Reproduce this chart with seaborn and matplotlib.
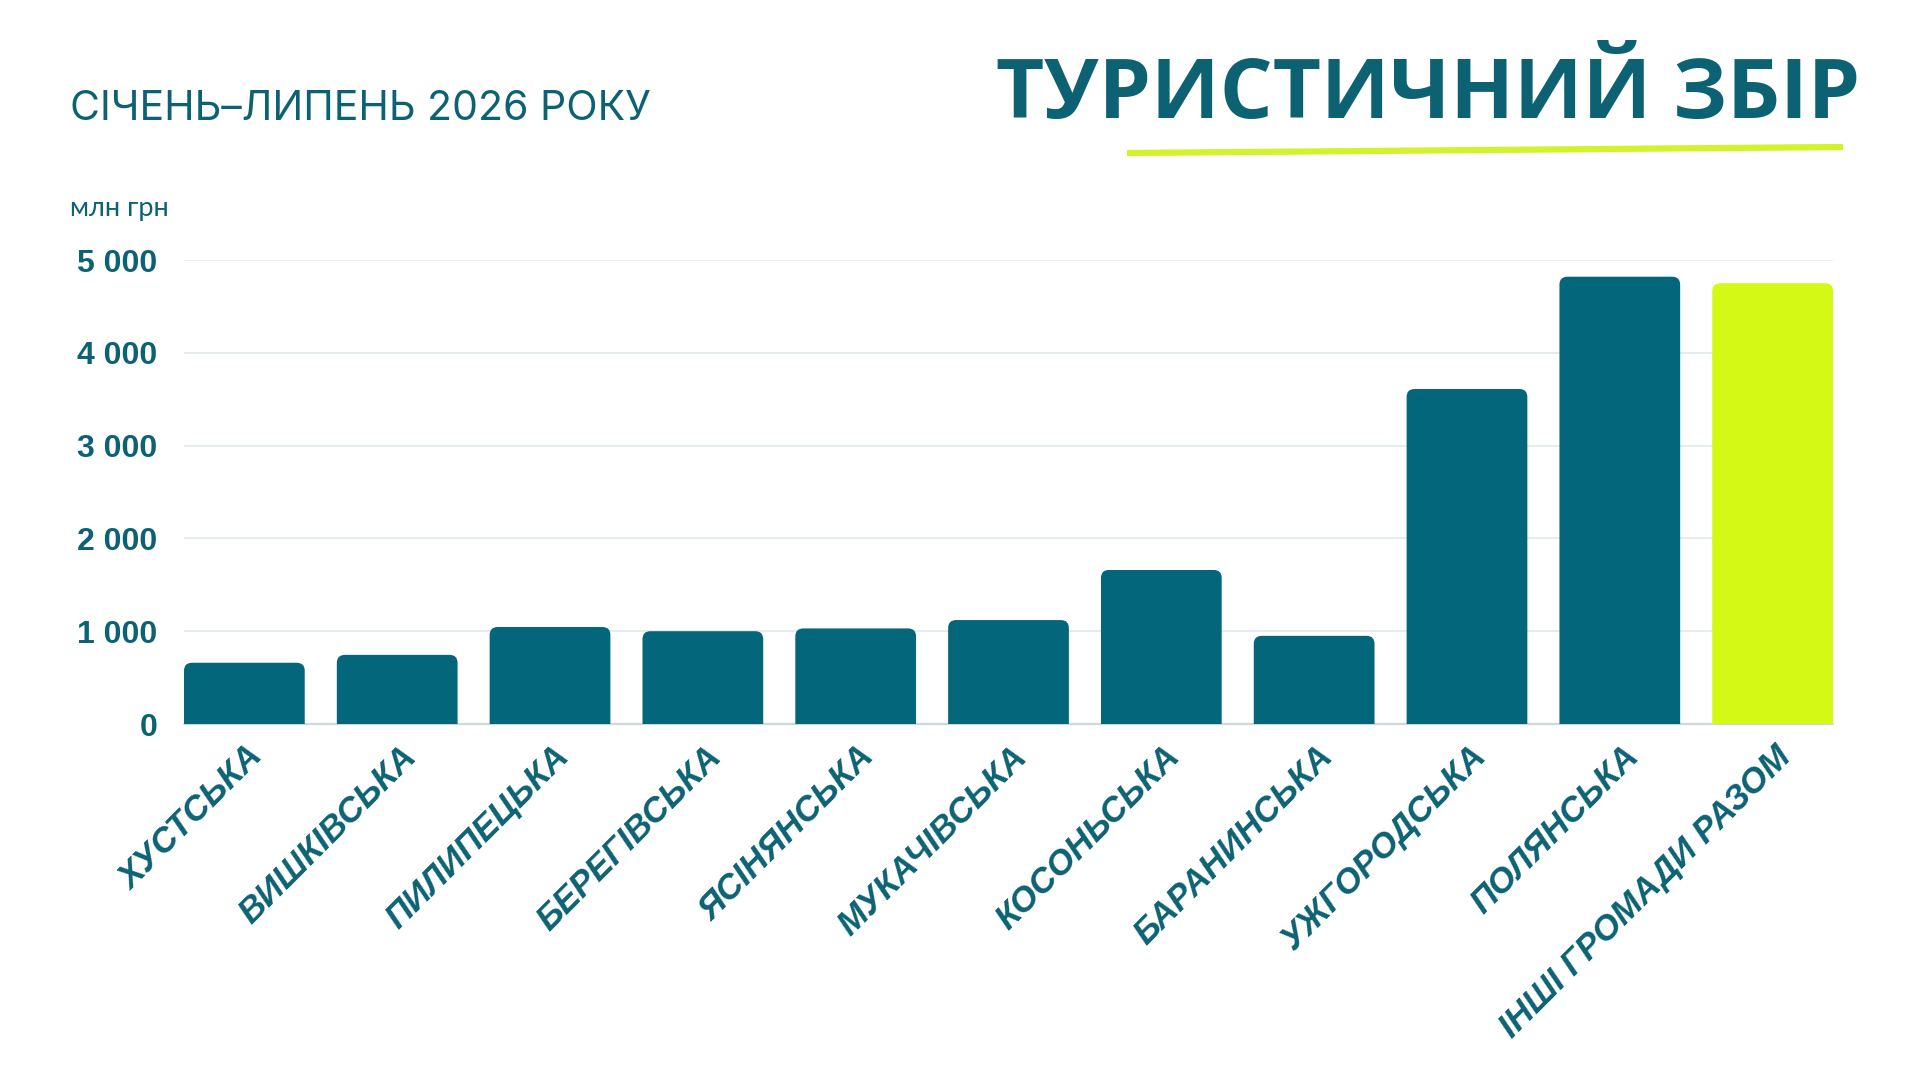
import matplotlib
matplotlib.use("Agg")
import matplotlib.pyplot as plt
import matplotlib.transforms as mtrans
from matplotlib.lines import Line2D
from matplotlib.patches import FancyBboxPatch
import seaborn as sns
import pandas as pd

# ---- data ----
communities = ["ХУСТСЬКА", "ВИШКІВСЬКА", "ПИЛИПЕЦЬКА", "БЕРЕГІВСЬКА", "ЯСІНЯНСЬКА",
               "МУКАЧІВСЬКА", "КОСОНЬСЬКА", "БАРАНИНСЬКА", "УЖГОРОДСЬКА", "ПОЛЯНСЬКА",
               "ІНШІ ГРОМАДИ РАЗОМ"]
values = [660, 745, 1045, 1000, 1030, 1120, 1660, 950, 3610, 4820, 4750]
y_ticks = [0, 1000, 2000, 3000, 4000, 5000]
title = "ТУРИСТИЧНИЙ ЗБІР"
subtitle = "СІЧЕНЬ–ЛИПЕНЬ 2026 РОКУ"
unit = "млн грн"

TEAL = "#03667a"
LIME = "#d3f914"
TEXT = "#0c6273"
colors = [TEAL] * (len(communities) - 1) + [LIME]

sns.set_theme(style="white")
plt.rcParams["font.family"] = ["Liberation Sans", "DejaVu Sans"]

W, H = 1920, 1080
fig = plt.figure(figsize=(W / 100, H / 100), dpi=100)
fig.patch.set_facecolor("white")
ax = fig.add_axes([184 / W, 1 - 724 / H, (1833 - 184) / W, (724 - 260) / H])

df = pd.DataFrame({"community": communities, "value": values})
sns.barplot(data=df, x="community", y="value", hue="community", order=communities,
            hue_order=communities, palette=colors, legend=False, width=0.79,
            saturation=1, ax=ax)

bw = 0.79
ax.set_xlim(-bw / 2, len(communities) - 1 + bw / 2)
ax.set_ylim(0, 5000)

# rounded top corners
fig.canvas.draw()
bb = ax.get_window_extent()
x0l, x1l = ax.get_xlim()
y0l, y1l = ax.get_ylim()
xpp = (x1l - x0l) / bb.width
ypp = (y1l - y0l) / bb.height
r_px = 8
for p in list(ax.patches):
    px, pw, ph = p.get_x(), p.get_width(), p.get_height()
    fc = p.get_facecolor()
    p.remove()
    ext = r_px * ypp
    fb = FancyBboxPatch((px, -ext), pw, ph + ext,
                        boxstyle=f"round,pad=0,rounding_size={r_px * xpp}",
                        mutation_aspect=ypp / xpp, facecolor=fc, edgecolor="none",
                        zorder=2)
    ax.add_patch(fb)

# grid
ax.set_axisbelow(True)
ax.yaxis.grid(True, color="#e2eaed", lw=1.3)
ax.xaxis.grid(False)
ax.axhline(0, color="#cdd8dc", lw=1.6, zorder=1, clip_on=False)
for s in ax.spines.values():
    s.set_visible(False)

ax.set_yticks(y_ticks, labels=[f"{v:,}".replace(",", " ") for v in y_ticks],
              fontsize=23, fontweight="bold", color=TEXT)
ax.tick_params(axis="y", length=0, pad=19)
ax.set_xticks(range(len(communities)), labels=communities, rotation=45, ha="right",
              va="top", rotation_mode="anchor", fontsize=25, fontweight="bold",
              fontstyle="italic", color=TEXT)
ax.tick_params(axis="x", length=0, pad=11.5)
offset = mtrans.ScaledTranslation(2 / 100, 0, fig.dpi_scale_trans)
for lbl in ax.get_xticklabels():
    lbl.set_transform(lbl.get_transform() + offset)
ax.set_xlabel("")
ax.set_ylabel("")

# titles
fig.text(1860 / W, 1 - 118 / H, title, ha="right", va="baseline", fontsize=60,
         fontweight="bold", color=TEXT, family=["Open Sans", "DejaVu Sans"])
fig.text(70 / W, 1 - 120 / H, subtitle, ha="left", va="baseline", fontsize=29.5,
         color=TEXT, family=["Inter", "DejaVu Sans"])
fig.text(70 / W, 1 - 216 / H, unit, ha="left", va="baseline", fontsize=19.5,
         color=TEXT, family=["Lato", "DejaVu Sans"])
fig.add_artist(Line2D([1127 / W, 1843 / W], [1 - 153 / H, 1 - 147 / H],
                      transform=fig.transFigure, color="#d4f22a", lw=4.5,
                      solid_capstyle="butt"))

fig.savefig("out.png", dpi=100, facecolor="white")
